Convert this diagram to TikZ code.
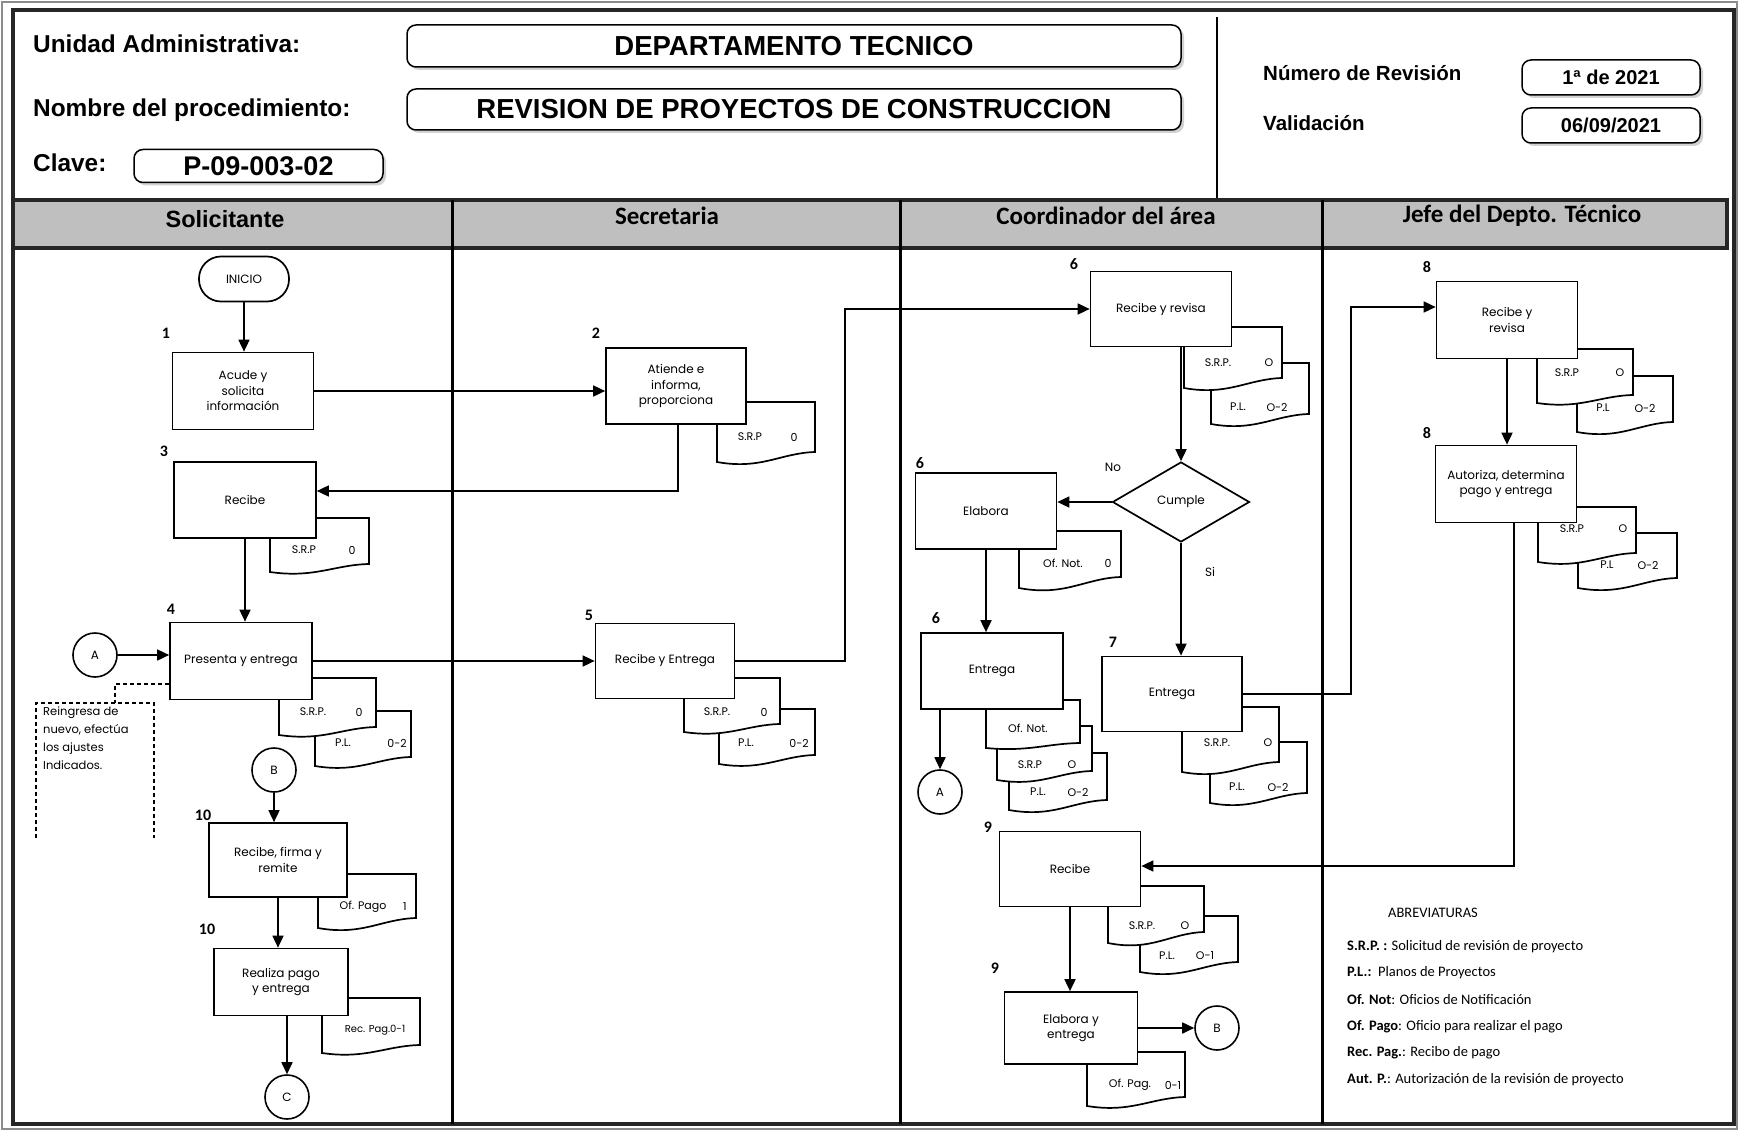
\documentclass[tikz,border=0pt]{standalone}
\usepackage{fontspec}
\setmainfont{Liberation Sans}
\newfontfamily\arialf{Liberation Sans}
\newfontfamily\calf{Carlito}
\newfontfamily\gothf{Poppins}
\usetikzlibrary{arrows.meta,shapes.geometric,shadows}

% document symbol: x1 ytop x2 y-bottom-right y-bottom-left
\newcommand\docsh[5]{%
  \pgfmathsetmacro\dw{#3-#1}%
  \pgfmathsetmacro\dd{#5-#4}%
  \filldraw[docline] (#1,#2) -- (#3,#2) -- (#3,#4)
    .. controls ({#3-0.35*\dw},{#4+0.1*\dd}) and ({#1+0.45*\dw},{#5+0.8*\dd}) .. (#1,#5) -- cycle;
}

\tikzset{
  frameline/.style={line width=3.5pt, draw=black!85},
  titlebox/.style={draw, line width=1.5pt, rounded corners=9pt, fill=white,
    drop shadow={shadow xshift=3pt, shadow yshift=-3pt, opacity=0.35}, inner sep=0pt},
  titletxt/.style={font=\arialf\bfseries\fontsize{27.5}{30}\selectfont},
  labeltxt/.style={font=\arialf\bfseries\fontsize{24.4}{28}\selectfont, anchor=base west, inner sep=0pt},
  revlbl/.style={font=\arialf\bfseries\fontsize{20.5}{24}\selectfont, anchor=base west, inner sep=0pt},
  revtxt/.style={font=\arialf\bfseries\fontsize{20}{24}\selectfont},
  lanehdr/.style={font=\calf\bfseries\fontsize{25}{28}\selectfont, inner sep=0pt},
  procbox/.style={draw, line width=1.7pt, fill=white, align=center,
    font=\gothf\fontsize{12}{15.5}\selectfont, inner sep=1pt},
  stepno/.style={font=\calf\bfseries\fontsize{16}{18}\selectfont, inner sep=0pt},
  doctxt/.style={font=\gothf\fontsize{11}{13}\selectfont, inner sep=0pt},
  docline/.style={draw, line width=1.7pt, fill=white},
  flow/.style={line width=1.7pt, -{Triangle[length=12pt,width=11pt]}},
  dashline/.style={line width=1.5pt, dash pattern=on 4pt off 3pt},
  conncirc/.style={draw, circle, line width=1.6pt, minimum size=44pt, inner sep=0pt, fill=white,
    font=\gothf\fontsize{12}{14}\selectfont},
  abbr/.style={font=\calf\fontsize{14.5}{16}\selectfont, anchor=west, inner sep=0pt},
}

\begin{document}
\begin{tikzpicture}[x=1pt, y=-1pt]
\useasboundingbox (0,0) rectangle (1739,1131);
\fill[white] (0,0) rectangle (1739,1131);

% ---------- frames ----------
\draw[line width=2.5pt, draw=black!45] (2,2) rectangle (1737,1129);
\draw[frameline] (13,10) rectangle (1734,1124);
\draw[line width=1.5pt] (1217,17) -- (1217,199);
\filldraw[fill=black!25, frameline] (13,200) rectangle (1727,248);
\foreach \lx in {452,900,1322} \draw[line width=3pt] (\lx,200) -- (\lx,1124);

% ---------- header ----------
\node[labeltxt] (lua) at (33,52.5) {Unidad Administrativa:};
\node[labeltxt] (lnp) at (33,116.5) {Nombre del procedimiento:};
\node[labeltxt] (lcl) at (33,171.5) {Clave:};
\node[titlebox, titletxt, minimum width=774pt, minimum height=42pt] (ua) at (794,46) {DEPARTAMENTO TECNICO};
\node[titlebox, titletxt, minimum width=774pt, minimum height=41pt] (np) at (794,109.5) {REVISION DE PROYECTOS DE CONSTRUCCION};
\node[titlebox, titletxt, font=\arialf\bfseries\fontsize{27}{30}\selectfont, minimum width=249pt, minimum height=33pt] (cl) at (258.5,166) {P-09-003-02};
\node[revlbl] (lnr) at (1263,81) {Número de Revisión};
\node[revlbl] (lva) at (1263,131) {Validación};
\node[titlebox, revtxt, minimum width=178pt, minimum height=35pt] (nr) at (1611,77.5) {1ª de 2021};
\node[titlebox, revtxt, minimum width=178pt, minimum height=35pt] (va) at (1611,125.5) {06/09/2021};

% ---------- lane headers ----------
\node[lanehdr, font=\arialf\bfseries\fontsize{23.5}{26}\selectfont] (hsol) at (225,219) {Solicitante};
\node[lanehdr] (hsec) at (667,216) {Secretaria};
\node[lanehdr] (hcoo) at (1106,216) {Coordinador del área};
\node[lanehdr] (hjef) at (1522,216) {Jefe del Depto. Técnico};

% ---------- Solicitante ----------
\node[procbox, rounded corners=22pt, minimum width=90pt, minimum height=45pt] (inicio) at (244,279) {INICIO};
\node[stepno] (s1) at (166,333) {1};
\node[procbox, minimum width=141pt, minimum height=77pt] (b1) at (243,391) {Acude y\\solicita\\información};
\node[stepno] (s3) at (164,451) {3};
\docsh{270}{518}{369}{564}{572}
\node[procbox, minimum width=142pt, minimum height=76pt] (b3) at (245,500) {Recibe};
\node[doctxt] (t3a) at (304,550) {S.R.P};
\node[doctxt] (t3b) at (352,550) {0};
\node[stepno] (s4) at (171,609) {4};
\docsh{315}{711}{411}{757}{766}
\docsh{279}{678}{376}{727}{735}
\node[procbox, minimum width=142pt, minimum height=77pt] (b4) at (241,661) {Presenta y entrega};
\node[doctxt] (t4a) at (313,712) {S.R.P.};
\node[doctxt] (t4b) at (359,712) {0};
\node[doctxt] (t4c) at (343,743) {P.L.};
\node[doctxt] (t4d) at (397,743) {0-2};
\node[conncirc] (A1) at (95,655) {A};
\coordinate (nt) at (115,703);
\draw[dashline] (b4.west |- 0,684) -| (nt);
\draw[dashline] (36,838) -- (36,703) -- (154,703) -- (154,838);
\node[anchor=north west, align=left, inner sep=0pt, font=\gothf\fontsize{11.5}{18}\selectfont] (note) at (43,707)
  {Reingresa de\\nuevo, efectúa\\los ajustes\\Indicados.};
\node[conncirc] (B1) at (274,770) {B};
\node[stepno] (s10a) at (203,815) {10};
\docsh{318}{874}{416}{918}{928}
\node[procbox, minimum width=138pt, minimum height=74pt] (b10a) at (278,860) {Recibe, firma y\\remite};
\node[doctxt] (t10a) at (363,907) {Of. Pago};
\node[doctxt] (t10b) at (405,907) {1};
\node[stepno] (s10b) at (207,929) {10};
\docsh{322}{998}{420}{1045}{1053}
\node[procbox, minimum width=134pt, minimum height=67pt] (b10b) at (281,982) {Realiza pago\\y entrega};
\node[doctxt, font=\gothf\fontsize{10}{12}\selectfont] (t10c) at (375,1030) {Rec. Pag.0-1};
\node[conncirc] (C) at (287,1097) {C};

% ---------- Secretaria ----------
\node[stepno] (s2) at (596,333) {2};
\docsh{717}{402}{815}{452}{462}
\node[procbox, minimum width=140pt, minimum height=76pt] (b2) at (676,386) {Atiende e\\informa,\\proporciona};
\node[doctxt] (t2a) at (750,437) {S.R.P};
\node[doctxt] (t2b) at (794,437) {0};
\node[stepno] (s5) at (589,615) {5};
\docsh{719}{709}{815}{755}{764}
\docsh{684}{678}{780}{724}{732}
\node[procbox, minimum width=139pt, minimum height=75pt] (b5) at (665,661) {Recibe y Entrega};
\node[doctxt] (t5a) at (717,712) {S.R.P.};
\node[doctxt] (t5b) at (764,712) {0};
\node[doctxt] (t5c) at (746,743) {P.L.};
\node[doctxt] (t5d) at (799,743) {0-2};

% ---------- Coordinador del área ----------
\node[stepno] (s6a) at (1074,264) {6};
\docsh{1211}{363}{1309}{414}{424}
\docsh{1184}{327}{1282}{378}{388}
\node[procbox, minimum width=141pt, minimum height=75pt] (b6a) at (1161,309) {Recibe y revisa};
\node[doctxt] (t6a) at (1218,363) {S.R.P.};
\node[doctxt] (t6b) at (1269,363) {O};
\node[doctxt] (t6c) at (1238,407) {P.L.};
\node[doctxt] (t6d) at (1277,407) {O-2};
\node[draw, diamond, line width=1.7pt, fill=white, aspect=1.71, minimum width=137pt, minimum height=80pt,
  inner sep=0pt, font=\gothf\fontsize{12}{14}\selectfont] (dia) at (1181,502) {Cumple};
\node[doctxt, font=\gothf\fontsize{12}{14}\selectfont] (lno) at (1113,467) {No};
\node[doctxt, font=\gothf\fontsize{12}{14}\selectfont] (lsi) at (1210,572) {Si};
\node[stepno] (s6b) at (920,463) {6};
\docsh{1019}{531}{1121}{577}{588}
\node[procbox, minimum width=141pt, minimum height=76pt] (b6b) at (986,511) {Elabora};
\node[doctxt] (t6e) at (1063,563) {Of. Not.};
\node[doctxt] (t6f) at (1108,563) {0};
\node[stepno] (s6c) at (936,618) {6};
\docsh{1009}{753}{1107}{800}{810}
\docsh{997}{726}{1092}{771}{780}
\docsh{986}{700}{1080}{743}{748}
\node[procbox, minimum width=142pt, minimum height=76pt] (b6c) at (992,671) {Entrega};
\node[doctxt] (t6g) at (1028,728) {Of. Not.};
\node[doctxt] (t6h) at (1030,765) {S.R.P};
\node[doctxt] (t6i) at (1072,765) {O};
\node[doctxt] (t6j) at (1038,792) {P.L.};
\node[doctxt] (t6k) at (1078,792) {O-2};
\node[conncirc] (A2) at (940,792) {A};
\node[stepno] (s7) at (1113,642) {7};
\docsh{1210}{742}{1307}{793}{803}
\docsh{1182}{707}{1279}{762}{772}
\node[procbox, minimum width=140pt, minimum height=75pt] (b7) at (1172,694) {Entrega};
\node[doctxt] (t7a) at (1217,743) {S.R.P.};
\node[doctxt] (t7b) at (1268,743) {O};
\node[doctxt] (t7c) at (1237,787) {P.L.};
\node[doctxt] (t7d) at (1278,787) {O-2};
\node[stepno] (s9a) at (988,827) {9};
\docsh{1140}{916}{1238}{962}{972}
\docsh{1108}{886}{1204}{932}{943}
\node[procbox, minimum width=141pt, minimum height=75pt] (b9a) at (1070,869) {Recibe};
\node[doctxt] (t9a) at (1142,926) {S.R.P.};
\node[doctxt] (t9b) at (1185,926) {O};
\node[doctxt] (t9c) at (1167,956) {P.L.};
\node[doctxt] (t9d) at (1205,956) {O-1};
\node[stepno] (s9b) at (995,968) {9};
\docsh{1087}{1052}{1185}{1097}{1106}
\node[procbox, minimum width=133pt, minimum height=72pt] (b9b) at (1071,1028) {Elabora y\\entrega};
\node[doctxt] (t9e) at (1130,1085) {Of. Pag.};
\node[doctxt] (t9f) at (1173,1085) {0-1};
\node[conncirc] (B2) at (1217,1028) {B};

% ---------- Jefe del Depto. Técnico ----------
\node[stepno] (s8a) at (1427,267) {8};
\docsh{1577}{376}{1673}{422}{432}
\docsh{1537}{349}{1633}{395}{403}
\node[procbox, minimum width=141pt, minimum height=77pt] (b8a) at (1507,320) {Recibe y\\revisa};
\node[doctxt] (t8a) at (1567,373) {S.R.P};
\node[doctxt] (t8b) at (1620,373) {O};
\node[doctxt] (t8c) at (1603,408) {P.L};
\node[doctxt] (t8d) at (1645,408) {O-2};
\node[stepno] (s8b) at (1427,433) {8};
\docsh{1578}{533}{1677}{578}{588}
\docsh{1538}{507}{1636}{553}{562}
\node[procbox, minimum width=141pt, minimum height=77pt] (b8b) at (1506,484) {Autoriza, determina\\pago y entrega};
\node[doctxt] (t8e) at (1572,529) {S.R.P};
\node[doctxt] (t8f) at (1623,529) {O};
\node[doctxt] (t8g) at (1607,565) {P.L};
\node[doctxt] (t8h) at (1648,565) {O-2};

% ---------- abbreviations ----------
\node[abbr, anchor=center] (abt) at (1433,913) {ABREVIATURAS};
\node[abbr] (ab1) at (1347,947) {\textbf{S.R.P. :} Solicitud de revisión de proyecto};
\node[abbr] (ab2) at (1347,973) {\textbf{P.L.:}\ \ Planos de Proyectos};
\node[abbr] (ab3) at (1347,1000) {\textbf{Of. Not}: Oficios de Notificación};
\node[abbr] (ab4) at (1347,1027) {\textbf{Of. Pago}: Oficio para realizar el pago};
\node[abbr] (ab5) at (1347,1053) {\textbf{Rec. Pag.}: Recibo de pago};
\node[abbr] (ab6) at (1347,1080) {\textbf{Aut. P.}: Autorización de la revisión de proyecto};

% ---------- connectors ----------
\draw[flow] (inicio.south) -- (inicio.south |- b1.north);
\draw[flow] (b1.east) -- (b1.east -| b2.west);
\coordinate (j23) at (678,491);
\draw[flow] (j23 |- b2.south) -- (j23) -- (j23 -| b3.east);
\draw[flow] (b3.south) -- (b3.south |- b4.north);
\draw[flow] (A1.east) -- (A1.east -| b4.west);
\draw[flow] (b4.east) -- (b4.east -| b5.west);
\coordinate (k56) at (845,309);
\draw[flow] (b5.east) -| (k56) -- (k56 -| b6a.west);
\draw[flow] (dia.north |- b6a.south) -- (dia.north);
\draw[flow] (dia.west) -- (dia.west -| b6b.east);
\draw[flow] (dia.south) -- (dia.south |- b7.north);
\draw[flow] (b6b.south) -- (b6b.south |- b6c.north);
\draw[flow] (A2.north |- b6c.south) -- (A2.north);
\coordinate (k78) at (1351,307);
\draw[flow] (b7.east) -| (k78) -- (k78 -| b8a.west);
\draw[flow] (b8a.south) -- (b8a.south |- b8b.north);
\coordinate (k89) at (1514,866);
\draw[flow] (k89 |- b8b.south) -- (k89) -- (k89 -| b9a.east);
\draw[flow] (b9a.south) -- (b9a.south |- b9b.north);
\draw[flow] (b9b.east) -- (B2.west);
\draw[flow] (B1.south) -- (B1.south |- b10a.north);
\draw[flow] (b10a.south) -- (b10a.south |- b10b.north);
\draw[flow] (C.north |- b10b.south) -- (C.north);
\end{tikzpicture}
\end{document}
